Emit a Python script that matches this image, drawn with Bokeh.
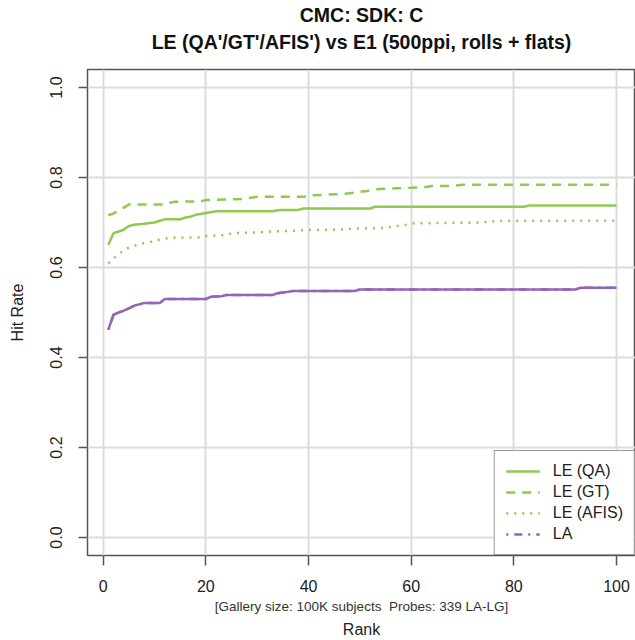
from bokeh.plotting import figure
from bokeh.models import (Range1d, FixedTicker, PrintfTickFormatter, Title,
                          Legend, LegendItem, LinearAxis)
from bokeh.embed import file_html
from bokeh.resources import INLINE

# CMC curves: (rank, hit rate) vertices for each search type
qa_rank = [1, 2, 3, 4, 5, 6, 8, 9, 10, 11, 12, 15, 16, 17, 18, 19, 20, 22,
           33, 34, 35, 38, 39, 52, 53, 82, 83, 100]
qa_rate = [0.650, 0.676, 0.680, 0.684, 0.692, 0.695, 0.697, 0.699, 0.700,
           0.704, 0.707, 0.707, 0.711, 0.713, 0.717, 0.719, 0.721, 0.725,
           0.725, 0.727, 0.728, 0.728, 0.731, 0.731, 0.735, 0.735, 0.738, 0.738]

gt_rank = [1, 2, 3, 4, 5, 12, 13, 14, 19, 20, 27, 28, 30, 39, 40, 44, 46, 48,
           50, 52, 53, 57, 60, 63, 64, 68, 70, 100]
gt_rate = [0.716, 0.720, 0.727, 0.733, 0.740, 0.740, 0.744, 0.746, 0.747,
           0.750, 0.752, 0.754, 0.757, 0.757, 0.760, 0.762, 0.763, 0.765,
           0.768, 0.771, 0.774, 0.776, 0.777, 0.779, 0.781, 0.781, 0.784, 0.784]

afis_rank = [1, 2, 3, 4, 5, 6, 7, 9, 10, 12, 13, 19, 20, 24, 25, 30, 33, 38,
             39, 46, 48, 55, 57, 59, 60, 74, 75, 100]
afis_rate = [0.609, 0.620, 0.630, 0.638, 0.644, 0.648, 0.652, 0.656, 0.660,
             0.664, 0.666, 0.667, 0.670, 0.672, 0.676, 0.678, 0.680, 0.682,
             0.683, 0.684, 0.686, 0.688, 0.692, 0.695, 0.698, 0.700, 0.703, 0.704]

la_rank = [1, 2, 3, 4, 5, 6, 7, 8, 11, 12, 20, 21, 23, 24, 33, 34, 36, 37,
           49, 50, 92, 93, 100]
la_rate = [0.462, 0.495, 0.500, 0.504, 0.509, 0.515, 0.518, 0.521, 0.521,
           0.530, 0.530, 0.535, 0.536, 0.539, 0.539, 0.543, 0.546, 0.548,
           0.548, 0.551, 0.551, 0.555, 0.555]

series_names = ["LE (QA)", "LE (GT)", "LE (AFIS)", "LA"]
x_ticks = [0, 20, 40, 60, 80, 100]
y_ticks = [0.0, 0.2, 0.4, 0.6, 0.8, 1.0]

title_lines = ["CMC: SDK: C", "LE (QA'/GT'/AFIS') vs E1 (500ppi, rolls + flats)"]
# no-break space keeps the double gap between the two parts of the note
subtitle = "[Gallery size: 100K subjects \u00a0Probes: 339 LA-LG]"
x_label = "Rank"
y_label = "Hit Rate"

GREEN = "#8CCB50"
PURPLE = "#9464B8"
FONT = "Liberation Sans"
LW = 2.5

p = figure(width=635, height=640, output_backend="svg", toolbar_location=None,
           x_range=Range1d(-3.06, 103.70), y_range=Range1d(-0.04, 1.04),
           min_border_left=87, min_border_right=0, min_border_top=68,
           min_border_bottom=85)
p.background_fill_color = "white"
p.border_fill_color = "white"
p.outline_line_color = "#555555"
p.outline_line_width = 1.5

# axes
for ax in (p.xaxis[0], p.yaxis[0]):
    ax.axis_line_color = None
    ax.major_tick_in = 0
    ax.minor_tick_line_color = None
    ax.major_tick_line_color = "#555555"
    ax.major_tick_line_width = 1.5
    ax.major_label_text_font = FONT
    ax.major_label_text_font_size = "16px"
    ax.major_label_text_color = "#222222"

p.xaxis.ticker = FixedTicker(ticks=x_ticks)
p.xaxis.major_tick_out = 10
p.xaxis.major_label_standoff = 14

p.yaxis.ticker = FixedTicker(ticks=y_ticks)
p.yaxis.formatter = PrintfTickFormatter(format="%.1f")
p.yaxis.major_label_orientation = "vertical"
p.yaxis.major_tick_out = 9
p.yaxis.major_label_standoff = 17
p.yaxis.axis_label = y_label
p.yaxis.axis_label_text_font = FONT
p.yaxis.axis_label_text_font_size = "16px"
p.yaxis.axis_label_text_font_style = "normal"
p.yaxis.axis_label_text_color = "#222222"
p.yaxis.axis_label_standoff = 21

p.xgrid.ticker = FixedTicker(ticks=x_ticks)
p.ygrid.ticker = FixedTicker(ticks=y_ticks)
for g in (p.xgrid[0], p.ygrid[0]):
    g.grid_line_color = "#dcdcdc"
    g.grid_line_width = 2

# curves; the LA legend key is a dot-dash stroke kept underneath the solid LA line
r_la_key = p.line(la_rank, la_rate, line_color=PURPLE, line_width=LW, line_dash="2 6 8 6")
r_qa = p.line(qa_rank, qa_rate, line_color=GREEN, line_width=LW)
r_gt = p.line(gt_rank, gt_rate, line_color=GREEN, line_width=LW, line_dash="9 7")
r_afis = p.line(afis_rank, afis_rate, line_color=GREEN, line_width=LW, line_dash="2 6")
r_la = p.line(la_rank, la_rate, line_color=PURPLE, line_width=LW)

legend = Legend(items=[
    LegendItem(label=series_names[0], renderers=[r_qa]),
    LegendItem(label=series_names[1], renderers=[r_gt]),
    LegendItem(label=series_names[2], renderers=[r_afis]),
    LegendItem(label=series_names[3], renderers=[r_la_key]),
], location="bottom_right")
legend.margin = 0
legend.padding = 11
legend.spacing = 3
legend.label_height = 18
legend.glyph_height = 18
legend.glyph_width = 34
legend.label_standoff = 13
legend.label_text_font = FONT
legend.label_text_font_size = "16px"
legend.label_text_color = "#222222"
legend.border_line_color = "#333333"
legend.border_line_width = 1.2
legend.background_fill_color = "white"
legend.background_fill_alpha = 1.0
p.add_layout(legend, "center")


def title_axis(text, standoff):
    """A tick-less axis above the frame that only carries a bold title line."""
    ax = LinearAxis(ticker=FixedTicker(ticks=[]), axis_label=text,
                    axis_line_color=None, major_tick_out=0, major_tick_in=0,
                    minor_tick_out=0, minor_tick_in=0,
                    major_tick_line_color=None, minor_tick_line_color=None,
                    major_label_standoff=0, axis_label_standoff=standoff,
                    axis_label_text_font=FONT, axis_label_text_font_size="19.5px",
                    axis_label_text_font_style="bold",
                    axis_label_text_color="#111111")
    p.add_layout(ax, "above")


# two-line title; the first one added sits next to the frame
title_axis(title_lines[1], 17)
title_axis(title_lines[0], 2)

# gallery note and axis caption under the x axis
p.add_layout(Title(text=subtitle, align="center", text_font=FONT,
                   text_font_size="13.5px", text_font_style="normal",
                   text_color="#333333", standoff=5), "below")
p.add_layout(Title(text=x_label, align="center", text_font=FONT,
                   text_font_size="16px", text_font_style="normal",
                   text_color="#222222", standoff=5), "below")

open("out.html", "w").write(file_html(p, INLINE))
